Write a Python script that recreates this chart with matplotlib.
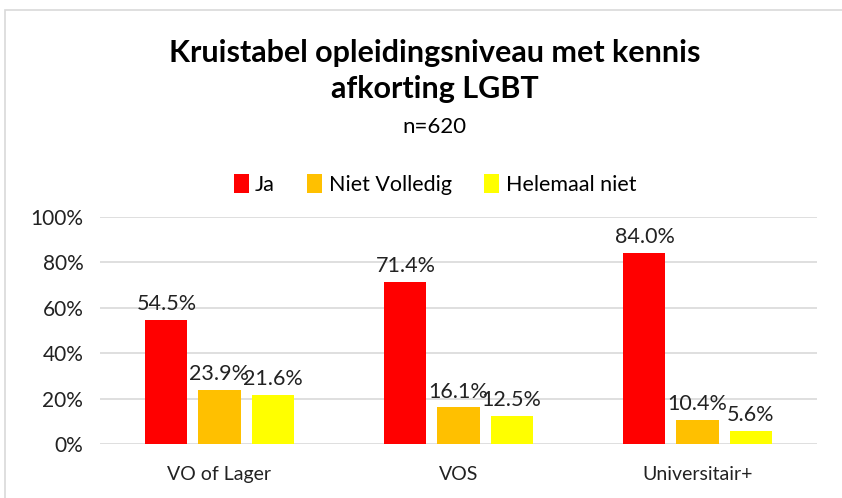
import matplotlib.pyplot as plt
import matplotlib.patches as mpatches
import numpy as np

plt.rcParams['font.family'] = ['Lato', 'DejaVu Sans']

categories = ["VO of Lager", "VOS", "Universitair+"]
series = ["Ja", "Niet Volledig", "Helemaal niet"]
ja = [54.5, 71.4, 84.0]
niet_volledig = [23.9, 16.1, 10.4]
helemaal_niet = [21.6, 12.5, 5.6]
colors = ["#FF0000", "#FFC000", "#FFFF00"]

fig = plt.figure(figsize=(8.42, 4.98), dpi=100)
ax = fig.add_axes([100 / 842, 54 / 498, 717 / 842, 227 / 498])

x = np.arange(len(categories))
width = 0.176
step = 0.222
for i, (name, vals) in enumerate(zip(series, [ja, niet_volledig, helemaal_niet])):
    bars = ax.bar(x + (i - 1) * step, vals, width, color=colors[i], label=name, zorder=3)
    for b, v in zip(bars, vals):
        ax.text(b.get_x() + b.get_width() / 2, v + 2.6, f"{v:.1f}%",
                ha="center", va="bottom", fontsize=15.5, color="#222222", zorder=4)

ax.set_xlim(-0.5, 2.5)
ax.set_ylim(0, 100)
ax.set_yticks(range(0, 101, 20))
ax.set_yticklabels([f"{t}%" for t in range(0, 101, 20)], fontsize=15, color="#222222")
ax.set_xticks(x)
ax.set_xticklabels(categories, fontsize=14, color="#222222")
ax.tick_params(length=0, pad=12)
ax.tick_params(axis="x", pad=16)
ax.grid(axis="y", color="#D9D9D9", linewidth=1.2, zorder=0)
for s in ax.spines.values():
    s.set_visible(False)

fig.text(0.516, 0.857, "Kruistabel opleidingsniveau met kennis\nafkorting LGBT",
         ha="center", va="center", fontsize=22, fontweight="bold", linespacing=1.35)
fig.text(0.516, 0.745, "n=620", ha="center", va="center", fontsize=16)

ax.legend(loc="center", bbox_to_anchor=(0.467, 1.145), ncol=3, frameon=False,
          fontsize=15.5, handlelength=0.7, handleheight=1.0, handletextpad=0.3,
          columnspacing=1.5)

fig.patches.append(mpatches.Rectangle((5 / 842, -0.1), 1.1, 1.1 - 10 / 498,
                                      transform=fig.transFigure, fill=False,
                                      edgecolor="#D9D9D9", linewidth=1.2))

fig.savefig("out.png", dpi=100)
